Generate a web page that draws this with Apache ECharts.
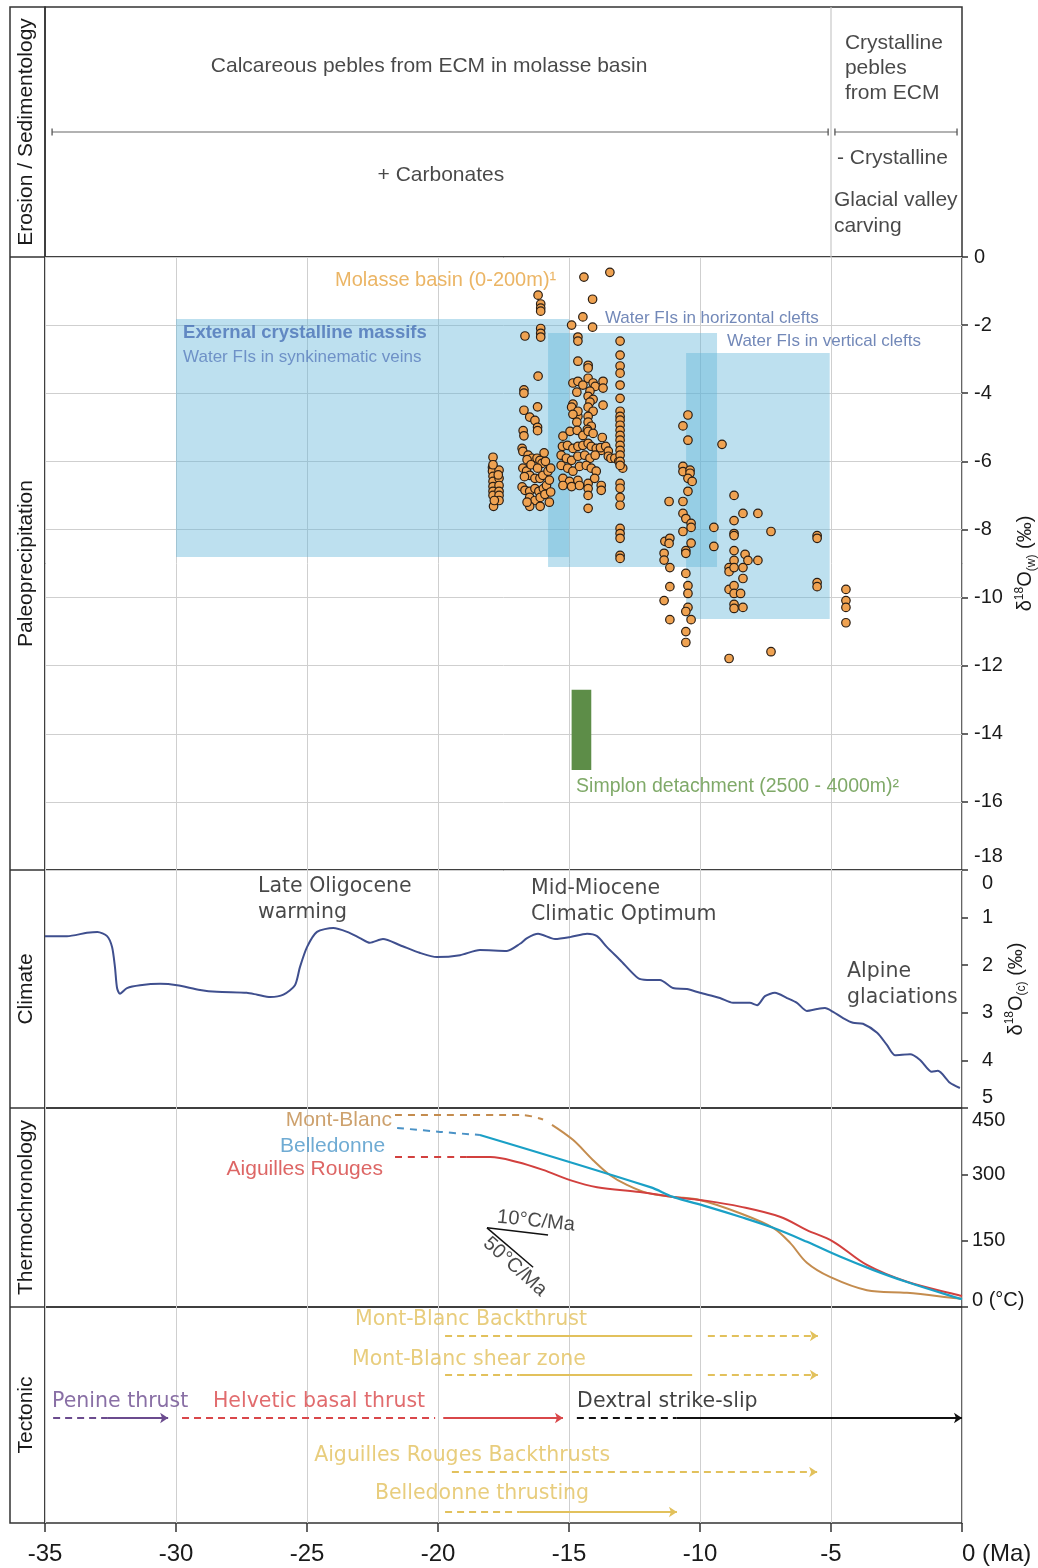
<!DOCTYPE html>
<html><head><meta charset="utf-8">
<script src="https://cdn.jsdelivr.net/npm/echarts@6/dist/echarts.min.js"></script>
<style>html,body{margin:0;padding:0;background:#fff}#c{width:1038px;height:1568px}</style>
</head><body><div id="c"></div>
<script>
// ================= DATA =================
const xTickLabels = [-35, -30, -25, -20, -15, -10, -5, 0];
const paleoTicks = [0, -2, -4, -6, -8, -10, -12, -14, -16, -18];
const climateTicks = [0, 1, 2, 3, 4, 5];
const thermoTicks = [0, 150, 300, 450];

// water fluid inclusion boxes [xFrom, yTop, xTo, yBottom] (Ma, d18O w)
const fluidBoxes = [[-30, -1.82, -15.0, -8.81], [-15.8, -2.23, -9.35, -9.1], [-10.53, -2.82, -5.05, -10.63]];
const simplonBox = [[-14.9, -12.71, -14.15, -15.06]];

// Molasse basin d18O(w) points [Ma, permil]
const molasseA = [[-17.9,-5.88],[-17.92,-6.18],[-17.92,-6.29],[-17.9,-6.44],[-17.9,-6.59],[-17.9,-6.74],[-17.9,-6.88],[-17.9,-7.0],[-17.88,-7.32],[-17.67,-6.26],[-17.67,-6.5],[-17.67,-6.71],[-17.67,-6.88],[-17.67,-7.0],[-17.67,-7.15],[-17.7,-6.4],[-17.85,-7.15],[-17.9,-6.1]];
const molasseB = [[-16.18,-1.12],[-16.08,-1.38],[-16.08,-1.5],[-16.08,-1.59],[-16.08,-2.1],[-16.08,-2.24],[-16.08,-2.35],[-16.68,-2.32],[-16.18,-3.5],[-16.72,-3.9],[-16.72,-4.0],[-16.2,-4.4],[-16.72,-4.5],[-16.5,-4.7],[-16.3,-4.8],[-16.2,-5.0],[-16.2,-5.1],[-16.75,-5.1],[-16.72,-5.25],
[-16.79,-5.62],[-16.76,-5.71],[-16.56,-5.82],[-16.41,-5.91],[-16.22,-5.91],[-16.11,-5.97],[-16.03,-6.06],
[-16.76,-6.2],[-16.62,-6.29],[-16.5,-6.41],[-16.3,-6.5],[-16.11,-6.5],[-16.0,-6.41],[-15.8,-6.29],[-15.7,-6.2],
[-16.79,-6.75],[-16.68,-6.85],[-16.5,-6.88],[-16.3,-6.8],[-16.15,-6.88],[-15.98,-6.8],[-15.86,-6.71],
[-16.5,-7.06],[-16.3,-7.15],[-16.1,-7.06],[-15.92,-6.97],[-16.1,-7.32],[-16.5,-7.32],
[-16.6,-5.95],[-16.45,-6.1],[-16.2,-6.2],[-15.9,-6.0],[-15.75,-6.55],[-15.7,-6.9],[-15.75,-7.2],[-16.7,-6.45],[-16.6,-7.2],[-15.95,-5.75]];
const molasseC = [[-14.43,-0.59],[-13.44,-0.45],[-14.1,-1.24],[-14.47,-1.76],[-14.1,-2.06],[-14.9,-2.0],[-14.66,-2.35],[-14.66,-2.47],
[-14.66,-3.06],[-14.85,-3.7],[-14.66,-3.65],[-14.47,-3.76],[-14.27,-3.18],[-14.27,-3.26],
[-14.27,-3.56],[-14.08,-3.7],[-14.0,-3.8],[-14.2,-3.94],[-14.27,-4.09],[-14.08,-4.18],[-14.2,-4.26],[-14.27,-4.41],[-14.08,-4.53],[-14.27,-4.68],[-14.27,-4.85],[-14.15,-4.97],[-14.3,-5.06],
[-14.7,-3.97],[-14.85,-4.32],[-14.9,-4.41],[-14.66,-4.68],[-14.66,-4.53],[-14.85,-4.62],[-14.7,-4.85],
[-13.7,-3.65],[-13.7,-3.85],[-13.7,-4.35],
[-15.23,-5.26],[-14.96,-5.12],[-14.69,-5.09],[-14.47,-5.24],[-14.27,-5.12],[-14.08,-5.18],
[-15.25,-5.56],[-15.06,-5.53],[-14.85,-5.62],[-14.66,-5.56],[-14.47,-5.53],[-14.27,-5.47],[-14.15,-5.56],[-13.96,-5.62],[-13.77,-5.68],
[-15.3,-5.82],[-15.1,-5.91],[-14.9,-5.97],[-14.66,-5.85],[-14.4,-5.82],[-14.2,-5.91],[-14.0,-5.82],
[-15.3,-6.12],[-15.05,-6.2],[-14.85,-6.29],[-14.6,-6.15],[-14.34,-6.12],[-14.15,-6.2],[-13.96,-6.29],
[-15.23,-6.5],[-14.98,-6.59],[-14.66,-6.56],[-14.27,-6.65],[-14.02,-6.5],[-13.77,-6.71],[-13.77,-6.85],
[-15.23,-6.71],[-14.9,-6.74],[-14.6,-6.71],[-14.27,-6.8],[-14.27,-7.0],[-14.27,-7.38],
[-13.73,-5.3],[-13.8,-5.6],[-13.6,-5.56],[-13.5,-5.7],[-13.5,-5.85],[-13.4,-5.91],[-13.25,-5.91],[-13.1,-6.0],[-12.95,-6.2],
[-13.05,-2.47],[-13.05,-2.88],[-13.05,-3.2],[-13.05,-3.41],[-13.05,-3.76],[-13.05,-4.15],[-13.05,-4.53],[-13.05,-4.68],[-13.05,-4.79],[-13.05,-4.94],[-13.05,-5.09],[-13.05,-5.24],[-13.05,-5.38],[-13.05,-5.53],[-13.05,-5.68],[-13.05,-5.82],[-13.05,-6.0],[-13.05,-6.12],[-13.05,-6.65],[-13.05,-6.79],[-13.05,-7.06],[-13.05,-7.29],[-13.05,-7.97],[-13.05,-8.12],[-13.05,-8.26],[-13.05,-8.76],[-13.05,-8.85]];
const molasseD = [[-10.46,-4.64],[-10.65,-4.96],[-10.46,-5.38],[-9.16,-5.5],
[-10.65,-6.15],[-10.65,-6.3],[-10.38,-6.26],[-10.38,-6.35],[-10.46,-6.5],[-10.3,-6.59],[-10.46,-6.88],
[-11.18,-7.18],[-10.65,-7.18],[-8.7,-7.0],
[-10.65,-7.53],[-10.54,-7.68],[-10.34,-7.82],[-10.34,-7.94],
[-8.7,-7.74],[-8.36,-7.53],[-7.79,-7.53],
[-10.65,-8.06],[-10.34,-8.4],[-9.47,-7.94],[-8.7,-8.12],[-8.7,-8.18],[-7.29,-8.06],[-5.53,-8.18],[-5.53,-8.26],
[-11.34,-8.35],[-11.15,-8.26],[-11.18,-8.41],
[-9.47,-8.5],[-10.54,-8.62],[-10.54,-8.7],[-11.37,-8.7],[-11.37,-8.9],[-8.7,-8.62],[-8.28,-8.73],[-8.17,-8.91],[-7.79,-8.91],[-8.7,-8.91],
[-8.89,-9.12],[-8.89,-9.24],[-8.7,-9.12],[-8.36,-9.12],[-11.15,-9.12],[-10.54,-9.29],[-8.36,-9.44],
[-5.53,-9.56],[-5.53,-9.68],[-11.15,-9.68],[-10.46,-9.65],[-10.46,-9.88],
[-8.89,-9.76],[-8.7,-9.65],[-8.7,-9.88],[-8.45,-9.88],
[-4.43,-9.76],[-4.43,-10.09],[-4.43,-10.29],[-4.43,-10.74],
[-11.37,-10.09],[-10.46,-10.29],[-10.54,-10.41],[-8.7,-10.2],[-8.7,-10.32],[-8.36,-10.29],
[-11.15,-10.65],[-10.34,-10.65],[-10.54,-11.0],[-10.54,-11.32],[-8.89,-11.79],[-7.29,-11.59]];

// Climate: benthic d18O(c) curve [Ma, permil]
const climateCurve = [[-35,1.39],[-34.16,1.39],[-33.4,1.32],[-33.0,1.30],[-32.63,1.39],[-32.44,1.62],[-32.33,2.04],[-32.25,2.48],[-32.14,2.6],[-31.87,2.48],[-31.37,2.42],[-30.6,2.39],[-29.96,2.42],[-29.08,2.52],[-28.44,2.56],[-27.3,2.58],[-26.9,2.62],[-26.4,2.67],[-25.9,2.62],[-25.46,2.42],[-25.27,2.04],[-25.0,1.62],[-24.62,1.30],[-24.0,1.22],[-23.47,1.30],[-22.98,1.43],[-22.6,1.53],[-22.1,1.45],[-21.45,1.58],[-20.7,1.74],[-20.04,1.83],[-19.16,1.79],[-18.4,1.68],[-17.37,1.70],[-16.87,1.55],[-16.6,1.43],[-16.18,1.34],[-15.53,1.45],[-14.96,1.41],[-14.31,1.34],[-13.93,1.39],[-13.55,1.62],[-13.05,1.89],[-12.37,2.27],[-12.02,2.31],[-11.53,2.31],[-11.03,2.48],[-10.5,2.5],[-10.0,2.58],[-9.24,2.69],[-8.74,2.79],[-8.1,2.79],[-7.82,2.84],[-7.52,2.65],[-7.14,2.58],[-6.68,2.69],[-6.3,2.79],[-5.92,2.96],[-5.53,2.92],[-5.23,2.9],[-4.92,2.98],[-4.54,3.11],[-4.16,3.21],[-3.78,3.23],[-3.24,3.42],[-2.86,3.68],[-2.56,3.89],[-1.98,3.87],[-1.6,3.99],[-1.15,4.24],[-0.92,4.22],[-0.46,4.47],[-0.08,4.58]];

// Thermochronology T-t paths [Ma, degC]
const mbDashed = [[-21.64,434],[-16.76,434],[-15.99,424]];
const mbSolid = [[-15.65,412],[-14.85,378],[-14.08,332],[-13.43,298],[-12.79,276],[-12.02,258],[-11.03,249],[-10.0,242],[-8.47,212],[-7.21,179],[-6.56,145],[-5.92,100],[-5.04,68],[-3.63,38],[-2.1,32],[-0.19,20],[0,19]];
const bdDashed = [[-21.56,405],[-19.92,396],[-18.4,389]];
const bdSolid = [[-18.4,389],[-11.9,271],[-11.03,249],[-9.73,227],[-8.47,204],[-7.21,179],[-5.94,148],[-4.66,114],[-3.4,84],[-2.13,57],[-0.15,20],[0,18]];
const arDashed = [[-21.64,339],[-18.9,339]];
const arSolid = [[-18.9,339],[-18.0,339],[-16.98,328],[-15.99,310],[-14.96,287],[-13.93,271],[-12.29,260],[-11.03,249],[-9.73,240],[-8.47,227],[-6.95,204],[-5.92,174],[-4.92,148],[-3.63,95],[-2.1,57],[-0.15,27],[0,25]];
const rate10 = [[-18.13,179],[-15.8,163]];
const rate50 = [[-18.13,179],[-16.37,90]];

// Tectonic events: [from Ma, to Ma, dashed?, arrow?]
const mbBackthrust = [[-19.73,-16.9,true,false],[-16.9,-10.3,false,false],[-9.7,-5.5,true,true]];
const mbShearZone = [[-19.73,-16.9,true,false],[-16.9,-10.3,false,false],[-9.7,-5.5,true,true]];
const penineThrust = [[-34.69,-32.6,true,false],[-32.6,-30.3,false,true]];
const helveticThrust = [[-29.77,-20.11,true,false],[-19.8,-15.23,false,true]];
const dextralStrikeSlip = [[-14.7,-10.9,true,false],[-10.9,0,false,true]];
const arBackthrusts = [[-19.47,-5.53,true,true]];
const bdThrusting = [[-19.73,-16.9,true,false],[-16.9,-10.88,false,true]];

// ================= CHART =================
const FONT = "'Liberation Sans', Arial, sans-serif";
const WIDE = "'DejaVu Sans', sans-serif";
const NARROW = "'Liberation Sans Narrow', 'Arial Narrow', 'Liberation Sans', sans-serif";
const INK = '#1a1a1a';
const chart = echarts.init(document.getElementById('c'));

const LEFT = 45, RIGHT = 1038 - 962;
const gridDefs = [[7, 250], [257, 613], [870, 238], [1108, 199], [1307, 216]];
const grids = gridDefs.map(([t, h]) => ({left: LEFT, right: RIGHT, top: t, height: h, show: true,
  borderColor: '#333', borderWidth: 1.5, backgroundColor: 'transparent', containLabel: false, outerBoundsMode: 'none'}));

const xAxes = gridDefs.map((g, i) => ({
  type: 'value', gridIndex: i, min: xTickLabels[0], max: xTickLabels[xTickLabels.length - 1], interval: 5,
  axisLine: {show: false, onZero: false},
  axisTick: {show: i === 4, length: 9, lineStyle: {color: '#333', width: 1.5}},
  axisLabel: {show: i === 4, margin: 19, fontFamily: NARROW, fontSize: 24, color: INK, alignMaxLabel: 'left',
    formatter: v => v === 0 ? '0 (Ma)' : String(v)},
  splitLine: {show: i > 0, lineStyle: {color: '#cfcfcf', width: 1}}
}));

const hidden = {axisLine: {show: false, onZero: false}, axisTick: {show: false}, axisLabel: {show: false}, splitLine: {show: false}};
const panelName = (name) => ({name, nameLocation: 'middle', nameRotate: 90, nameGap: 8,
  nameTextStyle: {fontFamily: FONT, fontSize: 21, color: INK}});
const deltaName = (sub, gap) => ({
  name: '{n|δ}{s|18}{n|O}{b|(' + sub + ')}{n| (‰)}', nameLocation: 'middle', nameRotate: 90, nameGap: gap,
  nameTextStyle: {rich: {
    n: {fontFamily: FONT, fontSize: 20, color: INK, lineHeight: 24},
    s: {fontFamily: FONT, fontSize: 12, color: INK, lineHeight: 12, verticalAlign: 'top'},
    b: {fontFamily: FONT, fontSize: 12, color: INK, lineHeight: 12, verticalAlign: 'bottom'}}}
});
const tickStyle = {show: true, length: 6, lineStyle: {color: '#333', width: 1.5}};
const lab = (extra) => Object.assign({fontFamily: FONT, fontSize: 20, color: INK}, extra || {});

const yAxes = [
  // 0: erosion panel (left name + layout scale)
  Object.assign({type: 'value', gridIndex: 0, position: 'left', min: 0, max: 10, inverse: true}, hidden, panelName('Erosion / Sedimentology')),
  // 1: paleoprecipitation values
  Object.assign({type: 'value', gridIndex: 1, position: 'right', min: paleoTicks[paleoTicks.length - 1], max: paleoTicks[0], interval: 2,
    axisLine: {show: false, onZero: false}, axisTick: tickStyle,
    axisLabel: lab({margin: 12, formatter: v => v === -18 ? '{up|-18}' : String(v), rich: {up: lab({padding: [0, 0, 28, 0]})}}),
    splitLine: {show: true, lineStyle: {color: '#cfcfcf', width: 1}}}, deltaName('w', 50)),
  // 2: paleo name
  Object.assign({type: 'value', gridIndex: 1, position: 'left', min: 0, max: 1}, hidden, panelName('Paleoprecipitation')),
  // 3: climate values
  Object.assign({type: 'value', gridIndex: 2, position: 'right', min: climateTicks[0], max: climateTicks[climateTicks.length - 1], interval: 1, inverse: true,
    axisLine: {show: false, onZero: false}, axisTick: tickStyle,
    axisLabel: lab({margin: 20, formatter: v => v === 0 ? '{dn|0}' : (v === 5 ? '{up|5}' : String(v)),
      rich: {dn: lab({padding: [26, 0, 0, 0]}), up: lab({padding: [0, 0, 22, 0]})}}),
    splitLine: {show: false}}, deltaName('c', 42)),
  // 4: climate name
  Object.assign({type: 'value', gridIndex: 2, position: 'left', min: 0, max: 1}, hidden, panelName('Climate')),
  // 5: thermo values
  {type: 'value', gridIndex: 3, position: 'right', min: thermoTicks[0], max: thermoTicks[thermoTicks.length - 1], interval: 150,
    axisLine: {show: false, onZero: false}, axisTick: tickStyle,
    axisLabel: lab({margin: 10, formatter: v => v === 450 ? '{dn|450}' : (v === 0 ? '{up|0 (°C)}' : String(v)),
      rich: {dn: lab({padding: [24, 0, 0, 0]}), up: lab({padding: [0, 0, 14, 0]})}}),
    splitLine: {show: false}},
  // 6: thermo name
  Object.assign({type: 'value', gridIndex: 3, position: 'left', min: 0, max: 1}, hidden, panelName('Thermochronology')),
  // 7: tectonic lanes
  Object.assign({type: 'value', gridIndex: 4, position: 'left', min: 0, max: 10, inverse: true}, hidden, panelName('Tectonic'))
];

const series = [];
// helper for text annotations anchored in data coordinates
function notes(xi, yi, items) {
  series.push({type: 'scatter', xAxisIndex: xi, yAxisIndex: yi, symbolSize: 0, silent: true, z: 10,
    data: items.map(it => ({value: [it[0], it[1]], label: Object.assign({show: true, position: [0, 0],
      align: 'left', verticalAlign: 'middle', formatter: it[2], fontFamily: FONT, fontSize: 21, color: INK}, it[3] || {})}))});
}

// ---- Erosion / Sedimentology panel ----
series.push({type: 'line', xAxisIndex: 0, yAxisIndex: 0, data: [[-5, 0], [-5, 10]], symbol: 'none', silent: true,
  lineStyle: {color: '#c8c8c8', width: 1.2}});
[[[-34.73, 5], [-5.11, 5]], [[-4.85, 5], [-0.19, 5]]].forEach(d => series.push({type: 'line', xAxisIndex: 0, yAxisIndex: 0,
  data: d, symbol: 'rect', symbolSize: [1.3, 7], silent: true, lineStyle: {color: '#666', width: 1.2}, itemStyle: {color: '#555'}}));
notes(0, 0, [
  [-20.34, 2.36, 'Calcareous pebles from ECM in molasse basin', {align: 'center'}],
  [-19.89, 6.72, '+ Carbonates', {align: 'center'}],
  [-4.47, 2.44, 'Crystalline\npebles\nfrom ECM', {lineHeight: 25}],
  [-4.77, 6.04, '- Crystalline'],
  [-4.89, 8.24, 'Glacial valley\ncarving', {lineHeight: 26}]
]);

// ---- Paleoprecipitation panel ----
const rectItem = (fill) => (params, api) => {
  const p1 = api.coord([api.value(0), api.value(1)]);
  const p2 = api.coord([api.value(2), api.value(3)]);
  return {type: 'rect', shape: {x: Math.min(p1[0], p2[0]), y: Math.min(p1[1], p2[1]),
    width: Math.abs(p2[0] - p1[0]), height: Math.abs(p2[1] - p1[1])}, style: {fill}};
};
series.push({type: 'custom', xAxisIndex: 1, yAxisIndex: 1, data: fluidBoxes, renderItem: rectItem('rgba(94,179,216,0.41)'),
  encode: {x: [0, 2], y: [1, 3]}, silent: true, z: 1});
series.push({type: 'custom', xAxisIndex: 1, yAxisIndex: 1, data: simplonBox, renderItem: rectItem('#5d8d48'),
  encode: {x: [0, 2], y: [1, 3]}, silent: true, z: 1});
series.push({type: 'scatter', xAxisIndex: 1, yAxisIndex: 1, silent: true, z: 5,
  data: [].concat(molasseA, molasseB, molasseC, molasseD), symbolSize: 8.5,
  itemStyle: {color: '#efa251', borderColor: '#2a1e14', borderWidth: 1.2, opacity: 1}});
notes(1, 1, [
  [-23.93, -0.70, 'Molasse basin (0-200m)¹', {fontSize: 20, color: '#e6a23f'}],
  [-29.73, -2.23, 'External crystalline massifs', {fontSize: 18.5, fontWeight: 'bold', color: '#4a72b6'}],
  [-29.73, -2.94, 'Water FIs in synkinematic veins', {fontSize: 17, color: '#5a7dbd'}],
  [-13.63, -1.79, 'Water FIs in horizontal clefts', {fontSize: 17, color: '#4f6aa6'}],
  [-8.97, -2.47, 'Water FIs in vertical clefts', {fontSize: 17, color: '#4f6aa6'}],
  [-14.73, -15.56, 'Simplon detachment (2500 - 4000m)²', {fontSize: 19.5, color: '#5f9342'}]
]);

// ---- Climate panel ----
series.push({type: 'line', xAxisIndex: 2, yAxisIndex: 3, data: climateCurve, smooth: 0.25, symbol: 'none', silent: true,
  lineStyle: {color: '#3f4f8e', width: 2}});
notes(2, 3, [
  [-26.87, 0.63, 'Late Oligocene\nwarming', {fontFamily: WIDE, fontSize: 20.5, lineHeight: 26}],
  [-16.45, 0.67, 'Mid-Miocene\nClimatic Optimum', {fontFamily: WIDE, fontSize: 20.5, lineHeight: 26}],
  [-4.39, 2.4, 'Alpine\nglaciations', {fontFamily: WIDE, fontSize: 20.5, lineHeight: 26}]
]);

// ---- Thermochronology panel ----
const tLine = (data, color, dashed, width) => series.push({type: 'line', xAxisIndex: 3, yAxisIndex: 5, data, smooth: 0.35,
  symbol: 'none', silent: true, z: 4, lineStyle: {color, width: width || 2, type: dashed ? [7, 6] : 'solid'}});
tLine(mbDashed, '#c48c4e', true);
tLine(mbSolid, '#c48c4e', false);
tLine(arDashed, '#d2403e', true);
tLine(arSolid, '#d2403e', false);
tLine(bdDashed, '#4a92c6', true);
tLine(bdSolid, '#1aa0c6', false, 2.2);
series.push({type: 'line', xAxisIndex: 3, yAxisIndex: 5, data: rate10, symbol: 'none', silent: true, lineStyle: {color: '#111', width: 1.5}});
series.push({type: 'line', xAxisIndex: 3, yAxisIndex: 5, data: rate50, symbol: 'none', silent: true, lineStyle: {color: '#111', width: 1.5}});
notes(3, 5, [
  [-21.76, 423, 'Mont-Blanc', {align: 'right', color: '#c08a48'}],
  [-22.02, 364, 'Belledonne', {align: 'right', color: '#4b96c8'}],
  [-22.1, 312, 'Aiguilles Rouges', {align: 'right', color: '#d4403f'}],
  [-16.26, 194, '10°C/Ma', {align: 'center', rotate: -6, fontSize: 20}],
  [-17.06, 91, '50°C/Ma', {align: 'center', rotate: -42, fontSize: 20}]
]);

// ---- Tectonic panel ----
const tect = [
  {segs: mbBackthrust, lane: 1.34, color: '#e2c15c', text: 'Mont-Blanc Backthrust', tx: -18.74, ty: 0.6, align: 'center'},
  {segs: mbShearZone, lane: 3.15, color: '#e2c15c', text: 'Mont-Blanc shear zone', tx: -18.82, ty: 2.45, align: 'center'},
  {segs: penineThrust, lane: 5.14, color: '#6b4b8e', text: 'Penine thrust', tx: -34.73, ty: 4.4, align: 'left'},
  {segs: helveticThrust, lane: 5.14, color: '#d9474a', text: 'Helvetic basal thrust', tx: -28.59, ty: 4.4, align: 'left'},
  {segs: dextralStrikeSlip, lane: 5.14, color: '#111111', text: 'Dextral strike-slip', tx: -14.69, ty: 4.4, align: 'left'},
  {segs: arBackthrusts, lane: 7.64, color: '#e2c15c', text: 'Aiguilles Rouges Backthrusts', tx: -19.08, ty: 6.9, align: 'center'},
  {segs: bdThrusting, lane: 9.49, color: '#e2c15c', text: 'Belledonne thrusting', tx: -18.32, ty: 8.66, align: 'center'}
];
tect.forEach(ev => {
  ev.segs.forEach(s => series.push({type: 'lines', coordinateSystem: 'cartesian2d', xAxisIndex: 4, yAxisIndex: 7, silent: true, z: 4,
    data: [{coords: [[s[0], ev.lane], [s[1], ev.lane]]}], symbol: ['none', s[3] ? 'arrow' : 'none'], symbolSize: 8,
    lineStyle: {color: ev.color, width: 2, opacity: 1, type: s[2] ? [7, 5] : 'solid'}}));
});
notes(4, 7, tect.map(ev => [ev.tx, ev.ty, ev.text, {align: ev.align, fontFamily: WIDE, fontSize: 20.5, color: ev.color}]));

// ---- left label column frame ----
const graphic = [{type: 'rect', shape: {x: 10, y: 7, width: 35, height: 1516}, style: {fill: 'none', stroke: '#333', lineWidth: 1.5}, silent: true}]
  .concat([257, 870, 1108, 1307].map(y => ({type: 'line', shape: {x1: 10, y1: y, x2: 45, y2: y}, style: {stroke: '#333', lineWidth: 1.5}, silent: true})));

chart.setOption({
  backgroundColor: '#fff', animation: false,
  grid: grids, xAxis: xAxes, yAxis: yAxes, series, graphic
});
</script></body></html>
